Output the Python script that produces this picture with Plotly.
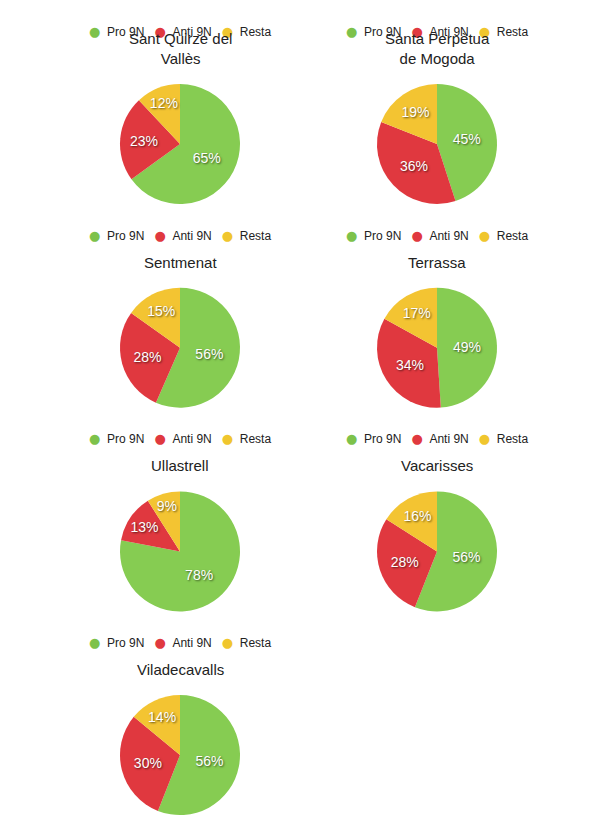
import textwrap

import plotly.graph_objects as go

# data
municipis = ["Sant Quirze del Vallès", "Santa Perpètua de Mogoda", "Sentmenat",
             "Terrassa", "Ullastrell", "Vacarisses", "Viladecavalls"]
categories = ["Pro 9N", "Anti 9N", "Resta"]
pro_9n = [65, 45, 56, 49, 78, 56, 56]
anti_9n = [23, 36, 28, 34, 13, 28, 30]
resta = [12, 19, 15, 17, 9, 16, 14]

slice_colours = ["#86cc52", "#e0383f", "#f3c432"]
dot_colours = ["#7dc24b", "#e0393f", "#f0c62e"]

W, H = 593, 838
OFF = 8                  # page body margin, the figure starts at (8, 8)
col_x = [180, 437]       # pie centres on the page, px
row_y0, row_dy = 144, 203.7
radius = 60

# small legend built as one line of text: coloured dot + label
legend_text = "&nbsp;&nbsp;&nbsp;".join(
    "<span style='color:%s;font-family:DejaVu Sans;font-size:13px'>●</span>"
    "&nbsp;&nbsp;%s" % (c, cat)
    for cat, c in zip(categories, dot_colours))

fig = go.Figure()
annotations = []

for i, name in enumerate(municipis):
    cx = col_x[i % 2] - OFF
    cy = row_y0 + row_dy * (i // 2) - OFF

    fig.add_trace(go.Pie(labels=categories,
                         values=[pro_9n[i], anti_9n[i], resta[i]],
                         name=name,
                         sort=False, direction="clockwise", rotation=0,
                         marker=dict(colors=slice_colours,
                                     line=dict(width=0)),
                         texttemplate="%{value}%", textposition="inside",
                         insidetextorientation="horizontal",
                         textfont=dict(color="white", size=14,
                                       shadow="1px 1px 2px rgba(0,0,0,0.6)"),
                         showlegend=False, hoverinfo="label+value",
                         domain=dict(x=[(cx - radius) / W, (cx + radius) / W],
                                     y=[1 - (cy + radius) / H,
                                        1 - (cy - radius) / H])))

    ly = cy - 112.5
    annotations.append(dict(text=legend_text,
                            x=cx / W, y=1 - ly / H,
                            xref="paper", yref="paper",
                            xanchor="center", yanchor="middle",
                            showarrow=False,
                            font=dict(size=12, color="#222")))

    annotations.append(dict(text="<br>".join(textwrap.wrap(name, 15)),
                            x=cx / W, y=1 - (ly + 37.5) / H,
                            xref="paper", yref="paper",
                            xanchor="center", yanchor="bottom",
                            showarrow=False,
                            font=dict(size=15, color="#222")))

fig.update_layout(width=W, height=H,
                  margin=dict(l=0, r=0, t=0, b=0),
                  paper_bgcolor="white",
                  font=dict(family="Liberation Sans, Arial, sans-serif"),
                  showlegend=False,
                  annotations=annotations)

fig.write_html("out.html")
